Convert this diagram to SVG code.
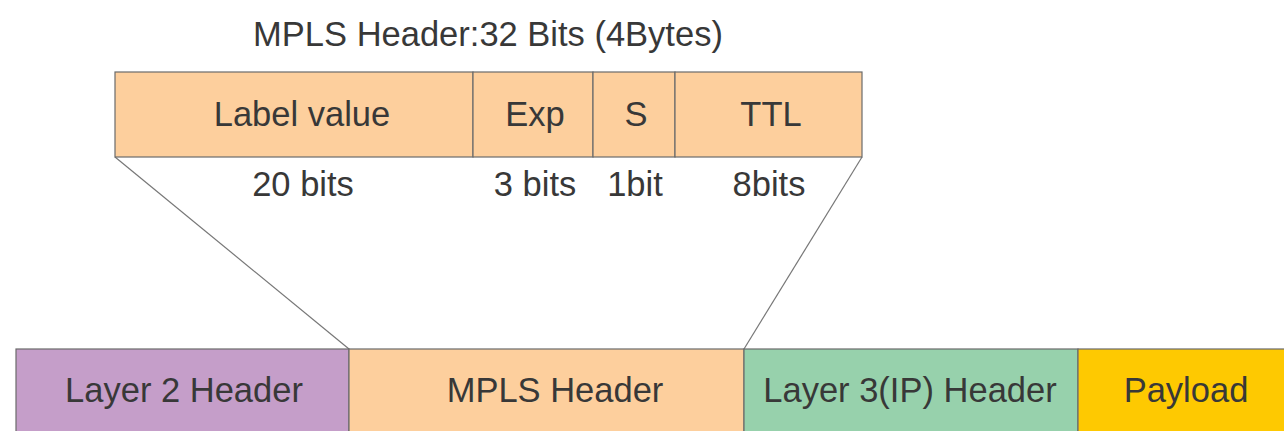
<svg xmlns="http://www.w3.org/2000/svg" width="1284" height="431" viewBox="0 0 1284 431">
<style>
text{font-family:"Liberation Sans",Arial,sans-serif;font-size:34.5px;fill:#383838;text-anchor:middle}
.box{stroke:#6b6b6b;stroke-width:1.2}
.or{fill:#fdcf9d}
.conn{stroke:#777;stroke-width:1.2;fill:none}
</style>
<rect width="1284" height="431" fill="#fff"/>
<g id="title"><text x="488" y="46">MPLS Header:32 Bits (4Bytes)</text></g>
<g id="connectors">
<line class="conn" x1="115" y1="157" x2="349" y2="349"/>
<line class="conn" x1="862" y1="157" x2="744" y2="349"/>
</g>
<g id="label-value"><rect class="box or" x="115" y="72" width="358" height="85"/><text x="302" y="126">Label value</text><text x="303" y="196">20 bits</text></g>
<g id="exp"><rect class="box or" x="473" y="72" width="120" height="85"/><text x="535" y="126">Exp</text><text x="535" y="196">3 bits</text></g>
<g id="s"><rect class="box or" x="593" y="72" width="82" height="85"/><text x="636" y="126">S</text><text x="635" y="196">1bit</text></g>
<g id="ttl"><rect class="box or" x="675" y="72" width="187" height="85"/><text x="771" y="126">TTL</text><text x="769" y="196">8bits</text></g>
<g id="layer2"><rect class="box" fill="#c59ec9" x="16" y="349" width="333" height="100"/><text x="184" y="402">Layer 2 Header</text></g>
<g id="mpls"><rect class="box or" x="349" y="349" width="395" height="100"/><text x="555" y="402">MPLS Header</text></g>
<g id="layer3"><rect class="box" fill="#97d1ac" x="744" y="349" width="334" height="100"/><text x="910" y="402">Layer 3(IP) Header</text></g>
<g id="payload"><rect class="box" fill="#fec901" x="1078" y="349" width="220" height="100"/><text x="1186" y="402">Payload</text></g>
</svg>
